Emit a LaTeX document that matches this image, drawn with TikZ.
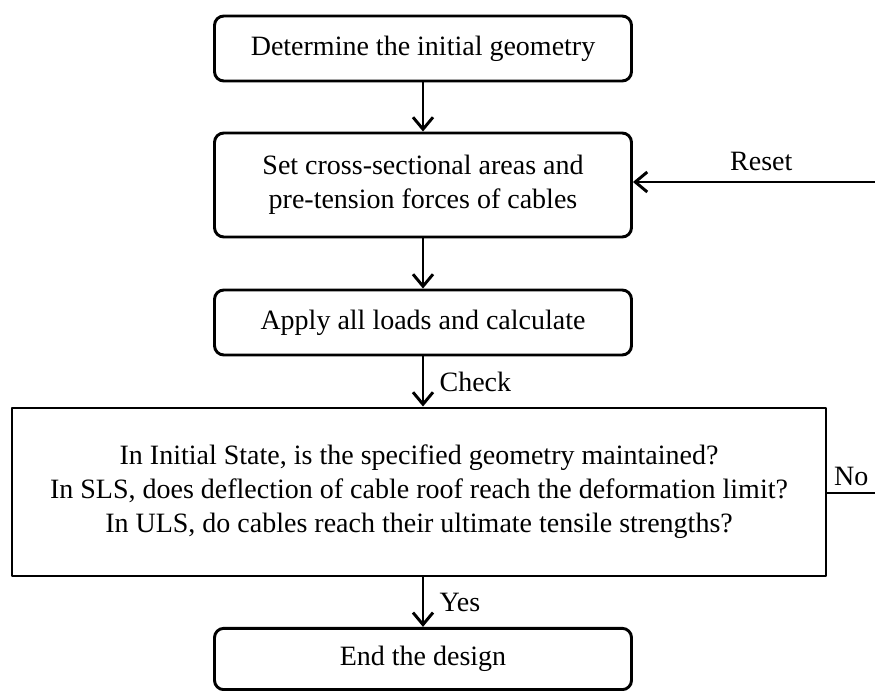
\documentclass[tikz,border=0pt]{standalone}
\usepackage{fontspec}
\setmainfont{Liberation Serif}
\usetikzlibrary{arrows.meta}
\tikzset{
	stepbox/.style={draw, line width=2.2pt, rounded corners=7pt, minimum width=312.75pt, minimum height=48.75pt, align=center, inner sep=0pt},
	testbox/.style={draw, line width=2.2pt, minimum width=610.5pt, minimum height=126pt, align=center, inner sep=0pt},
	flow/.style={line width=2.2pt, -{Straight Barb[length=9pt,width=15pt,line width=2.2pt]}},
}
\begin{document}
\begin{tikzpicture}[x=0.75pt, y=-0.75pt, font=\fontsize{21}{25.5}\selectfont, line join=round, line cap=round]
				\useasboundingbox (0,0) rectangle (875,691);
				% boxes
				\node[stepbox] (determine) at (423,48.5) {Determine the initial geometry};
				\node[stepbox, minimum height=78pt] (setarea) at (423,185) {Set cross-sectional areas and\\pre-tension forces of cables};
				\node[stepbox] (apply) at (423,322.5) {Apply all loads and calculate};
				\node[testbox] (check) at (419,492) {In Initial State, is the specified geometry maintained?\\In SLS, does deflection of cable roof reach the deformation limit?\\In ULS, do cables reach their ultimate tensile strengths?};
				\node[stepbox, minimum height=46pt] (finish) at (423,659) {End the design};
				% loop ends at the right border
				\coordinate (resetin) at (875,182);
				\coordinate (noout) at (875,493);
				% connectors
				\draw[flow] (determine) -- (setarea);
				\draw[flow] (setarea) -- (apply);
				\draw[flow] (apply.south) -- (apply.south |- check.north) node[midway, right=8pt]{Check};
				\draw[flow] (finish.north |- check.south) -- (finish.north) node[midway, right=8pt]{Yes};
				\draw[flow] (resetin) -- (resetin -| setarea.east) node[pos=.47, above=4pt]{Reset};
				\draw[line width=2.2pt] (check.east |- noout) -- (noout) node[midway, above=1pt]{No};
			\end{tikzpicture}
\end{document}
